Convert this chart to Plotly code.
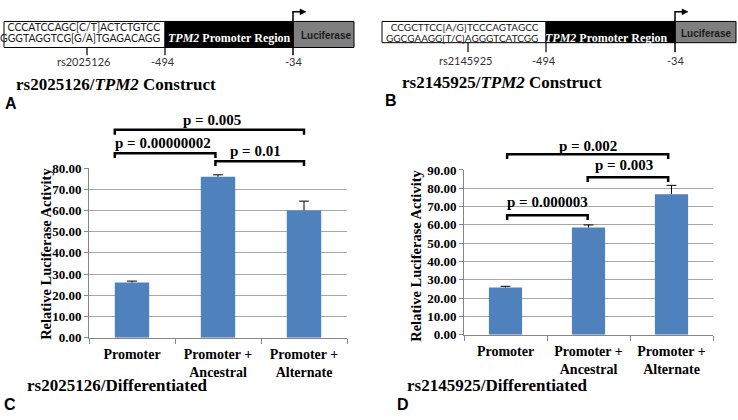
import plotly.graph_objects as go

W, H = 738, 420

# ---------------- data ----------------
categories = ["Promoter", "Promoter +<br>Ancestral", "Promoter +<br>Alternate"]
c_values = [26.0, 75.9, 60.0]
c_errors = [0.7, 0.9, 4.4]
d_values = [25.9, 58.6, 76.8]
d_errors = [0.6, 1.4, 4.8]
c_pvalues = ["p = 0.005", "p = 0.00000002", "p = 0.01"]
d_pvalues = ["p = 0.002", "p = 0.003", "p = 0.000003"]

a_seq = ["CCCATCCAGC[C/T]ACTCTGTCC", "GGGTAGGTCG[G/A]TGAGACAGG"]
b_seq = ["CCGCTTCC[A/G]TCCCAGTAGCC", "GGCGAAGG[T/C]AGGGTCATCGG"]
a_snp, b_snp = "rs2025126", "rs2145925"
positions = ["-494", "-34"]
c_title = "rs2025126/Differentiated"
d_title = "rs2145925/Differentiated"
a_title = "rs2025126/<i>TPM2</i> Construct"
b_title = "rs2145925/<i>TPM2</i> Construct"
ytitle = "Relative Luciferase Activity"

# ---------------- layout helpers ----------------
def px(x):
    return x / W

def py(y):
    return 1 - y / H

SERIF = "Liberation Serif"
SANS = "Liberation Sans"
SEQF = "Lato"
BAR = "#4f81bd"
GRID = "#a6a6a6"
AXC = "#868686"

C_X = [px(89), px(347)]
C_Y = [py(343), py(167)]
C_R = [0, 80]
D_X = [px(464), px(713)]
D_Y = [py(340), py(169)]
D_R = [0, 90]

def vp(v, dom, rng):
    return dom[0] + (v - rng[0]) / (rng[1] - rng[0]) * (dom[1] - dom[0])

fig = go.Figure()

def bars(vals, errs, xa, ya):
    fig.add_trace(go.Bar(
        x=categories, y=vals, xaxis=xa, yaxis=ya, width=0.4,
        marker=dict(color=BAR, line=dict(width=0)),
        error_y=dict(type="data", array=errs, arrayminus=[0] * len(errs),
                     symmetric=False, color="black", thickness=1, width=0),
        showlegend=False, hoverinfo="skip"))
    # caps on the upper end of the error bars
    fig.add_trace(go.Scatter(
        x=categories, y=[v + e for v, e in zip(vals, errs)], xaxis=xa, yaxis=ya,
        mode="markers", cliponaxis=False,
        marker=dict(symbol="line-ew", size=7, line=dict(color="black", width=1)),
        showlegend=False, hoverinfo="skip"))

bars(c_values, c_errors, "x", "y")
bars(d_values, d_errors, "x2", "y2")

def xaxis(dom, anchor):
    return dict(domain=dom, anchor=anchor, type="category", tickson="boundaries",
                ticks="outside", ticklen=5, tickcolor=AXC, showline=True,
                linecolor=AXC, linewidth=1, showgrid=False, range=[-0.5, 2.5],
                ticklabelstandoff=3,
                tickfont=dict(family=SERIF, size=14, color="black", weight="bold"),
                fixedrange=True)

def yaxis(dom, anchor, rng):
    return dict(domain=dom, anchor=anchor, range=rng, dtick=10, tick0=0,
                tickformat=".2f", showgrid=True, gridcolor=GRID, gridwidth=1,
                showline=True, linecolor=AXC, ticks="outside", ticklen=4,
                tickcolor=AXC, zeroline=False,
                tickfont=dict(family=SERIF, size=13, color="black", weight="bold"),
                fixedrange=True)

shapes = []
annotations = []

# ---------------- significance brackets ----------------
c_brackets = [(-0.2, 2.0, 98.0, 0.93, 102.7),
              (-0.2, 0.97, 87.0, 0.36, 91.8),
              (0.97, 2.0, 83.2, 1.44, 88.2)]
d_brackets = [(0.02, 1.96, 98.6, 0.99, 103.2),
              (0.99, 1.96, 86.0, 1.43, 92.6),
              (0.02, 0.99, 65.3, 0.51, 72.6)]

def add_brackets(specs, labels, xref, dom, rng):
    for (x0, x1, yv, tx, ty), lab in zip(specs, labels):
        yt = vp(yv, dom, rng)
        yb = yt - 5 / H
        shapes.append(dict(type="path", xref=xref, yref="paper",
                           path=f"M {x0},{yb} L {x0},{yt} L {x1},{yt} L {x1},{yb}",
                           line=dict(color="black", width=2.5)))
        annotations.append(dict(text=f"<b>{lab}</b>", xref=xref, yref="paper",
                                x=tx, y=vp(ty, dom, rng), showarrow=False,
                                xanchor="center", yanchor="middle",
                                font=dict(family=SERIF, size=15, color="black")))

add_brackets(c_brackets, c_pvalues, "x", C_Y, C_R)
add_brackets(d_brackets, d_pvalues, "x2", D_Y, D_R)

# ---------------- text helper ----------------
def text(t, x, y, size, family, color="black", xanchor="center", angle=0, bold=False,
         align="center"):
    if bold:
        t = f"<b>{t}</b>"
    annotations.append(dict(text=t, xref="paper", yref="paper", x=px(x), y=py(y),
                            showarrow=False, xanchor=xanchor, yanchor="middle",
                            textangle=angle, align=align,
                            font=dict(family=family, size=size, color=color)))

def rect(x0, y0, x1, y1, fill, lw=1):
    shapes.append(dict(type="rect", xref="paper", yref="paper",
                       x0=px(x0), x1=px(x1), y0=py(y1), y1=py(y0),
                       fillcolor=fill, line=dict(color="black", width=lw)))

def line(pts, width=1.2, color="black"):
    path = "M " + " L ".join(f"{px(x)},{py(y)}" for x, y in pts)
    shapes.append(dict(type="path", xref="paper", yref="paper", path=path,
                       line=dict(color=color, width=width)))

def arrowhead(x, y):
    path = f"M {px(x)},{py(y-3)} L {px(x+6)},{py(y)} L {px(x)},{py(y+3)} Z"
    shapes.append(dict(type="path", xref="paper", yref="paper", path=path,
                       fillcolor="black", line=dict(color="black", width=0.5)))

# ---------------- construct diagrams ----------------
def construct(x0, xw, xb, x1, top, bot, seq, seq_right, seq_y, seq_base, seq_size,
              prom_x, luc_x, luc_y, snp_x, snp, snp_lbl_x, tick_bot, lbl_y, arrow_end,
              title, title_x, title_y, letter, letter_x, letter_y, promo_y):
    rect(x0, top, xw, bot, "white")
    rect(xw, top, xb, bot, "black")
    rect(xb, top, x1, bot, "#7f7f7f")
    seq_txt = "<br>".join(f'<span style="font-size:{seq_size}px">{s}</span>' for s in seq)
    text(seq_txt, seq_right, seq_y, seq_base, SEQF, "#1a1a1a", xanchor="right",
         align="right")
    text("<i>TPM2</i> Promoter Region", prom_x, promo_y, 12, SERIF, "white", bold=True)
    text("Luciferase", luc_x, luc_y, 10, SANS, "#1a1a1a", bold=True)
    line([(snp_x, bot), (snp_x, tick_bot)])
    line([(xw, bot), (xw, tick_bot)])
    line([(xb, tick_bot), (xb, 5), (arrow_end, 5)], width=1.5)
    arrowhead(arrow_end, 5)
    text(snp, snp_lbl_x, lbl_y, 11, SEQF, "#333333")
    text(positions[0], xw - 2, lbl_y, 11, SEQF, "#333333")
    text(positions[1], xb, lbl_y, 11, SEQF, "#333333")
    text(title, title_x, title_y, 17, SERIF, "black", xanchor="left", bold=True)
    text(letter, letter_x, letter_y, 16, SANS, "black", xanchor="left", bold=True)

construct(4, 165, 293, 354, 15, 42, a_seq, 162, 26.5, 8.8, 10.5, 230, 326, 30,
          87, a_snp, 83, 50, 57, 300, a_title, 14, 80, "A", 3, 100, 32)
construct(382, 546, 675, 736, 15, 37, b_seq, 541, 26.0, 8.5, 10, 606, 706, 28,
          468, b_snp, 465, 47, 55, 682, b_title, 400, 78, "B", 383, 97, 32)

# ---------------- chart titles, labels ----------------
text(ytitle, 46, 256, 14.5, SERIF, "black", angle=-90, bold=True)
text(ytitle, 416, 258, 14.5, SERIF, "black", angle=-90, bold=True)
text(c_title, 25, 392, 17, SERIF, "black", xanchor="left", bold=True)
text(d_title, 405, 392, 17, SERIF, "black", xanchor="left", bold=True)
text("C", 2, 412, 16, SANS, "black", xanchor="left", bold=True)
text("D", 395, 412, 16, SANS, "black", xanchor="left", bold=True)

fig.update_layout(
    width=W, height=H,
    margin=dict(l=0, r=0, t=0, b=0),
    paper_bgcolor="white", plot_bgcolor="white",
    xaxis=xaxis(C_X, "y"), yaxis=yaxis(C_Y, "x", C_R),
    xaxis2=xaxis(D_X, "y2"), yaxis2=yaxis(D_Y, "x2", D_R),
    bargap=0.6,
    shapes=shapes, annotations=annotations,
)

fig.write_html("out.html", include_plotlyjs=True,
               config={"displayModeBar": False},
               post_script="document.body.style.margin='0px';")
